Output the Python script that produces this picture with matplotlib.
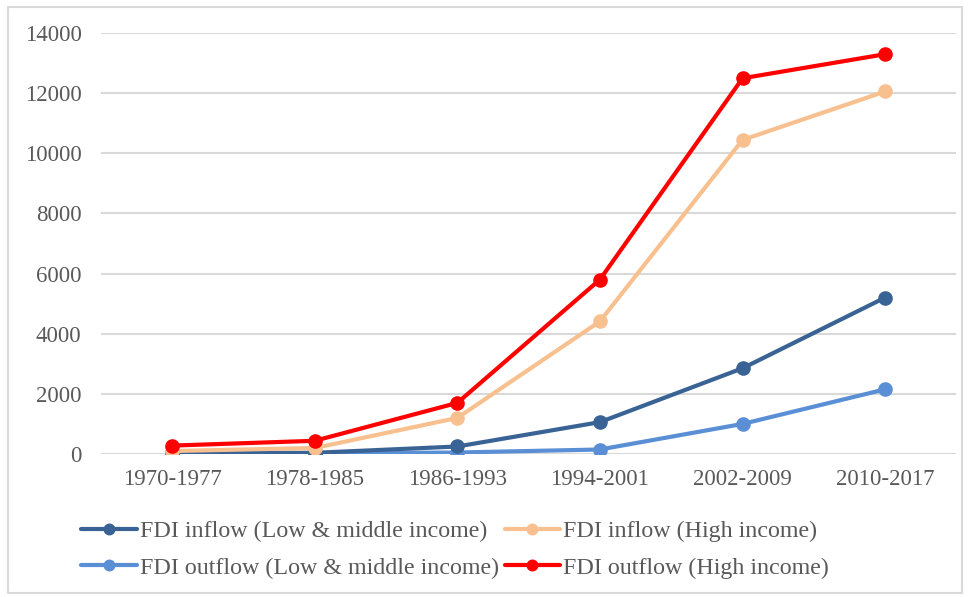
import matplotlib.pyplot as plt
from matplotlib.patches import Rectangle

periods = ["1970-1977", "1978-1985", "1986-1993", "1994-2001", "2002-2009", "2010-2017"]

inflow_low_mid = [30, 40, 250, 1060, 2850, 5200]
inflow_high = [100, 200, 1200, 4410, 10440, 12050]
outflow_low_mid = [20, 20, 50, 150, 1000, 2150]
outflow_high = [280, 440, 1700, 5800, 12490, 13290]

labels = ["FDI inflow (Low & middle income)",
          "FDI outflow (Low & middle income)",
          "FDI inflow (High income)",
          "FDI outflow (High income)"]
colors = ["#3a6395", "#5a8fd6", "#f9c08f", "#ff0000"]

plt.rcParams['font.family'] = ['Liberation Serif', 'DejaVu Serif']

fig = plt.figure(figsize=(9.7, 5.97), dpi=100)
ax = fig.add_axes([0.104, 0.2395, 0.882, 0.7055])

x = list(range(len(periods)))
series = [inflow_low_mid, outflow_low_mid, inflow_high, outflow_high]
# draw in the same stacking order: light series under dark ones
zorders = [4, 3, 5, 6]
for vals, lab, col, z in zip(series, labels, colors, zorders):
    ax.plot(x, vals, color=col, lw=3, marker='o', ms=9.5, label=lab,
            zorder=z, solid_capstyle='round')

ax.set_xlim(-0.5, 5.5)
ax.set_ylim(0, 14000)
ax.set_yticks(range(0, 14001, 2000))
ax.set_xticks(x)
ax.set_xticklabels(periods)
ax.grid(axis='y', color='#d9d9d9', lw=1.5)
ax.set_axisbelow(True)
for s in ax.spines.values():
    s.set_visible(False)
ax.tick_params(length=0, labelsize=16.5, colors='#595959')
ax.tick_params(axis='x', pad=11)
ax.tick_params(axis='y', pad=14)

# legend order gives rows: dark/peach, light/red
leg = ax.legend(loc='upper left', bbox_to_anchor=(-0.034, -0.135), ncol=2,
                frameon=False, fontsize=17.3, handlelength=2.3, handletextpad=0.12,
                columnspacing=0.25, labelspacing=0.6, borderaxespad=0,
                markerscale=0.8)
for t in leg.get_texts():
    t.set_color('#595959')

fig.patches.append(Rectangle((0.008, 0.006), 0.984, 0.982, transform=fig.transFigure,
                             fill=False, edgecolor='#d9d9d9', lw=1.5))

fig.savefig("out.png", dpi=100)
